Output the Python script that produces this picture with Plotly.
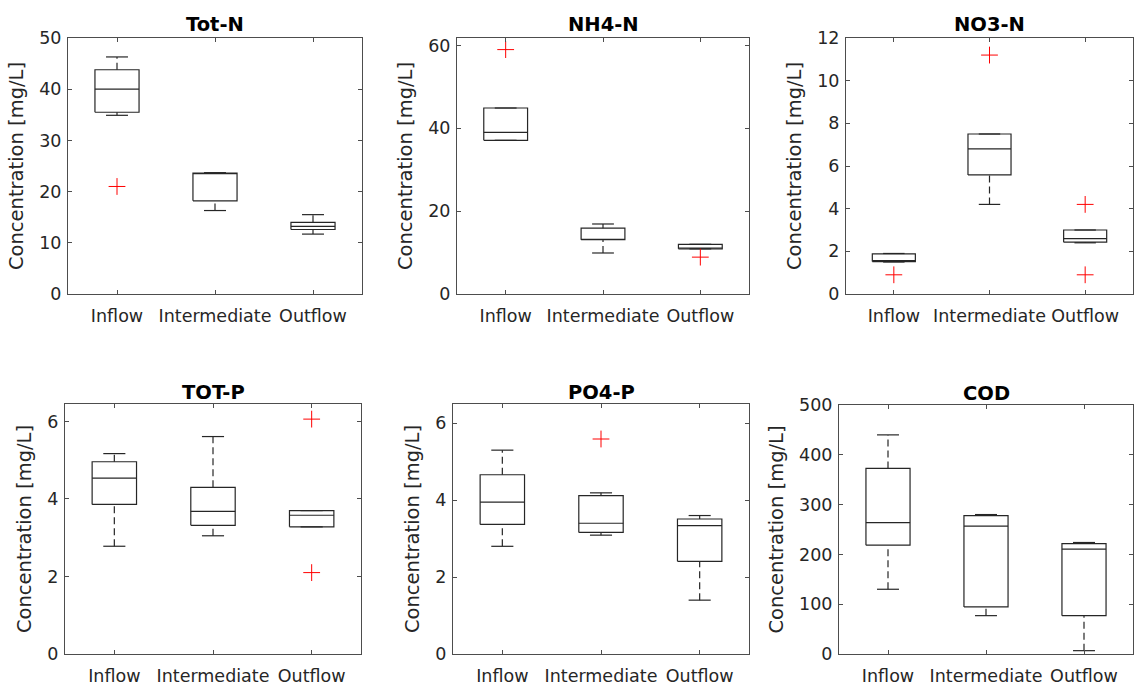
import plotly.graph_objects as go

# ---------------- data ----------------
categories = ["Inflow", "Intermediate", "Outflow"]
titles = ["Tot-N", "NH4-N", "NO3-N", "TOT-P", "PO4-P", "COD"]

# per panel, per category: lower whisker, Q1, median, Q3, upper whisker
lower_whisker = [
    [34.9, 16.3, 11.7],
    [37.1, 9.9, 10.9],
    [1.50, 4.2, 2.40],
    [2.78, 3.05, 3.28],
    [2.80, 3.09, 1.40],
    [130, 77, 6.7],
]
q1 = [
    [35.5, 18.2, 12.6],
    [37.1, 13.1, 10.9],
    [1.52, 5.58, 2.43],
    [3.86, 3.32, 3.28],
    [3.37, 3.16, 2.41],
    [218.5, 94.5, 77],
]
median = [
    [40.0, 23.5, 13.2],
    [39.0, 13.2, 11.1],
    [1.56, 6.8, 2.60],
    [4.54, 3.68, 3.58],
    [3.95, 3.40, 3.34],
    [264, 256.7, 210.5],
]
q3 = [
    [43.8, 23.6, 14.0],
    [44.9, 15.9, 12.0],
    [1.88, 7.5, 3.00],
    [4.96, 4.30, 3.70],
    [4.66, 4.12, 3.51],
    [372.6, 278, 221.8],
]
upper_whisker = [
    [46.3, 23.7, 15.5],
    [44.9, 16.9, 12.0],
    [1.90, 7.5, 3.00],
    [5.17, 5.61, 3.70],
    [5.30, 4.19, 3.60],
    [440, 280, 223.9],
]
# outliers: (category index, value)
outlier_cat = [
    [0],
    [0, 2],
    [0, 1, 2, 2],
    [2, 2],
    [1],
    [],
]
outlier_val = [
    [21.0],
    [59.0, 8.9],
    [0.9, 11.2, 4.2, 0.9],
    [6.06, 2.10],
    [5.59],
    [],
]
y_ranges = [[0, 50], [0, 61.8], [0, 12], [0, 6.45], [0, 6.5], [0, 500]]
y_ticks = [
    [0, 10, 20, 30, 40, 50],
    [0, 20, 40, 60],
    [0, 2, 4, 6, 8, 10, 12],
    [0, 2, 4, 6],
    [0, 2, 4, 6],
    [0, 100, 200, 300, 400, 500],
]

# ---------------- layout geometry (pixels) ----------------
W, H = 1134, 685
panel_px = [
    (68, 362, 38, 294),
    (457, 749, 38, 294),
    (846, 1133, 38, 294),
    (65, 361, 404, 654),
    (453, 749, 404, 654),
    (839, 1133, 405, 654),
]
title_shift = [0, 0, 0, -2, -2, -2]
BOX_HALF = 0.225
CAP_HALF = 0.112
TEXT = "#262626"
AXIS = "#4d4d4d"
FONT = "DejaVu Sans"

fig = go.Figure()

for p in range(6):
    xa = "x" if p == 0 else f"x{p + 1}"
    ya = "y" if p == 0 else f"y{p + 1}"
    sx, sy, dx, dy = [], [], [], []
    for i in range(len(categories)):
        c = i + 1
        lo, a, m, b, hi = (lower_whisker[p][i], q1[p][i], median[p][i],
                           q3[p][i], upper_whisker[p][i])
        # box
        sx += [c - BOX_HALF, c + BOX_HALF, c + BOX_HALF, c - BOX_HALF, c - BOX_HALF, None]
        sy += [a, a, b, b, a, None]
        # median
        sx += [c - BOX_HALF, c + BOX_HALF, None]
        sy += [m, m, None]
        # caps
        sx += [c - CAP_HALF, c + CAP_HALF, None, c - CAP_HALF, c + CAP_HALF, None]
        sy += [hi, hi, None, lo, lo, None]
        # whiskers (dashed)
        dx += [c, c, None, c, c, None]
        dy += [b, hi, None, lo, a, None]
    fig.add_trace(go.Scatter(x=dx, y=dy, mode="lines", xaxis=xa, yaxis=ya,
                             line=dict(color="#262626", width=1.2, dash="7px,4px"),
                             hoverinfo="skip", showlegend=False))
    fig.add_trace(go.Scatter(x=sx, y=sy, mode="lines", xaxis=xa, yaxis=ya,
                             line=dict(color="#262626", width=1.2),
                             hoverinfo="skip", showlegend=False))
    if outlier_val[p]:
        fig.add_trace(go.Scatter(
            x=[k + 1 for k in outlier_cat[p]], y=outlier_val[p], mode="markers",
            xaxis=xa, yaxis=ya, showlegend=False,
            marker=dict(symbol="cross-thin", size=12, color="red",
                        line=dict(color="red", width=1))))

    x0, x1, y0, y1 = panel_px[p]
    key = "" if p == 0 else str(p + 1)
    fig.layout["xaxis" + key] = dict(
        domain=[x0 / W, x1 / W], anchor=ya, range=[0.5, 3.5], automargin=False,
        tickvals=[1, 2, 3], ticktext=categories, ticks="inside", ticklen=4,
        tickcolor=AXIS, showline=True, linecolor=AXIS, linewidth=1, mirror="ticks",
        showgrid=False, zeroline=False, fixedrange=True, ticklabelstandoff=6,
        tickfont=dict(family=FONT, size=17.5, color=TEXT),
    )
    fig.layout["yaxis" + key] = dict(
        domain=[1 - y1 / H, 1 - y0 / H], anchor=xa, range=y_ranges[p], automargin=False,
        tickvals=y_ticks[p], ticks="inside", ticklen=4,
        tickcolor=AXIS, showline=True, linecolor=AXIS, linewidth=1, mirror="ticks",
        showgrid=False, zeroline=False, fixedrange=True, ticklabelstandoff=2,
        tickfont=dict(family=FONT, size=17.5, color=TEXT),
        title=dict(text="Concentration [mg/L]", standoff=10,
                   font=dict(family=FONT, size=19.5, color=TEXT)),
    )
    fig.add_annotation(
        text="<b>" + titles[p] + "</b>", xref=xa + " domain", yref=ya + " domain",
        x=0.5, y=1, xanchor="center", yanchor="bottom", yshift=title_shift[p],
        showarrow=False, font=dict(family=FONT, size=19.5, color="#000000"))

fig.update_layout(
    width=W, height=H, autosize=False,
    margin=dict(l=0, r=0, t=0, b=0),
    paper_bgcolor="white", plot_bgcolor="white",
    font=dict(family=FONT, color=TEXT),
)

fig.write_html("out.html")
